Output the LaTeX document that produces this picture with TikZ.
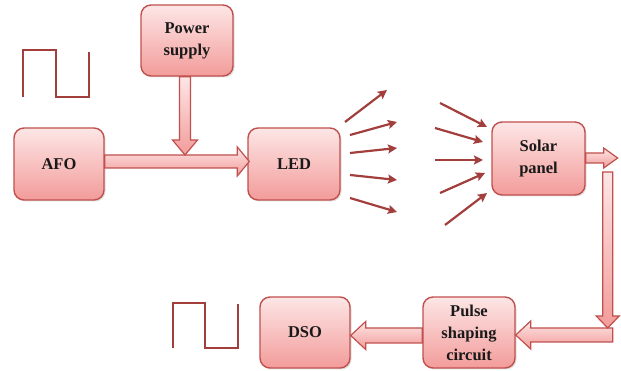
\documentclass[tikz,border=0pt]{standalone}
\usepackage{fontspec}
\setmainfont{Liberation Serif}
\usetikzlibrary{calc,arrows.meta,shadows}
\definecolor{bord}{HTML}{C0504D}
\definecolor{ftop}{HTML}{FDE6E6}
\definecolor{fbot}{HTML}{F29C9A}
\definecolor{raycol}{HTML}{A23F3D}
\tikzset{
 box/.style={draw=bord, line width=1.4pt, rounded corners=10pt, top color=ftop, bottom color=fbot,
   align=center, font=\bfseries\fontsize{16.5}{22}\selectfont, text=black!90, inner sep=2pt,
   drop shadow={opacity=0.25,shadow xshift=1.5pt,shadow yshift=-1.5pt}},
 blk/.style={draw=bord, line width=1.2pt, top color=ftop, bottom color=fbot, line join=miter},
 rayarrow/.style={draw=raycol, line width=2.2pt, -{Stealth[length=9pt,width=9pt,inset=1.5pt]}},
 wave/.style={draw=raycol, line width=2pt}
}
% horizontal block arrow: start point, tip point (x used), shaft half, head half, head length
\newcommand\harrow[5]{\path[blk] let \p1=#1, \p2=#2, \n1={ifthenelse(\x2>\x1,1,-1)} in
  (\x1,\y1+#3) -- ({\x2-\n1*#5},\y1+#3) -- ({\x2-\n1*#5},\y1+#4) -- (\x2,\y1)
  -- ({\x2-\n1*#5},\y1-#4) -- ({\x2-\n1*#5},\y1-#3) -- (\x1,\y1-#3) -- cycle;}
% vertical block arrow: start point, tip point (y used), shaft half, head half, head length
\newcommand\varrow[5]{\path[blk] let \p1=#1, \p2=#2, \n1={ifthenelse(\y2>\y1,1,-1)} in
  (\x1-#3,\y1) -- (\x1-#3,{\y2-\n1*#5}) -- (\x1-#4,{\y2-\n1*#5}) -- (\x1,\y2)
  -- (\x1+#4,{\y2-\n1*#5}) -- (\x1+#3,{\y2-\n1*#5}) -- (\x1+#3,\y1) -- cycle;}
\begin{document}
\begin{tikzpicture}[x=1pt,y=1pt]
\useasboundingbox (0,0) rectangle (621,371);
% boxes
\node[box, minimum width=92pt, minimum height=71pt] (power) at (187,330.5) {Power\\supply};
\node[box, minimum width=90pt, minimum height=72pt] (afo) at (59,207) {AFO};
\node[box, minimum width=92pt, minimum height=72pt] (led) at (294,207) {LED};
\node[box, minimum width=93pt, minimum height=73pt] (solar) at (538.5,212.5) {Solar\\panel};
\node[box, minimum width=90pt, minimum height=71pt] (dso) at (305,38.5) {DSO};
\node[box, minimum width=92pt, minimum height=71pt] (pulse) at (469,38.5) {Pulse\\shaping\\circuit};
% helper coordinates
\coordinate (ctip) at ($(solar.east)+(32,0.5)$);
\coordinate (dtop) at ($(solar.east)+(22,-13.5)$);
\coordinate (dtip) at ($(pulse.east)+(92,4.5)$);
\coordinate (estart) at ($(pulse.east)+(97,-2.5)$);
% block arrows
\harrow{($(afo.east)+(0,2.5)$)}{($(led.west)+(2,0)$)}{6.5pt}{14.5pt}{12pt}
\varrow{($(power.south)+(-2,0)$)}{($(afo.east)+(0,9)$)}{5.5pt}{12.5pt}{15pt}
\harrow{($(solar.east)+(0,0.5)$)}{(ctip)}{5pt}{10pt}{14pt}
\harrow{(estart)}{(pulse.east)}{7pt}{14pt}{15pt}
\varrow{(dtop)}{(dtip)}{5pt}{11.5pt}{12pt}
\harrow{($(pulse.west)+(0,-3)$)}{(dso.east)}{7.5pt}{14pt}{15pt}
% light rays leaving the LED
\draw[rayarrow] (345,249) -- (387,281);
\draw[rayarrow] (350,236) -- (397,249);
\draw[rayarrow] (350,218) -- (397,223);
\draw[rayarrow] (350,196) -- (397,191);
\draw[rayarrow] (350,173) -- (397,159);
% light rays reaching the solar panel
\draw[rayarrow] (440,268) -- (487,244);
\draw[rayarrow] (435,243) -- (483,229);
\draw[rayarrow] (435,211) -- (483,211);
\draw[rayarrow] (440,178) -- (485,198);
\draw[rayarrow] (445,146) -- (487,178);
% square waves
\draw[wave] (23,274) -- (23,321) -- (56,321) -- (56,274) -- (89,274) -- (89,319);
\draw[wave] (173,23) -- (173,68) -- (205,68) -- (205,23) -- (238,23) -- (238,67);
\end{tikzpicture}
\end{document}
